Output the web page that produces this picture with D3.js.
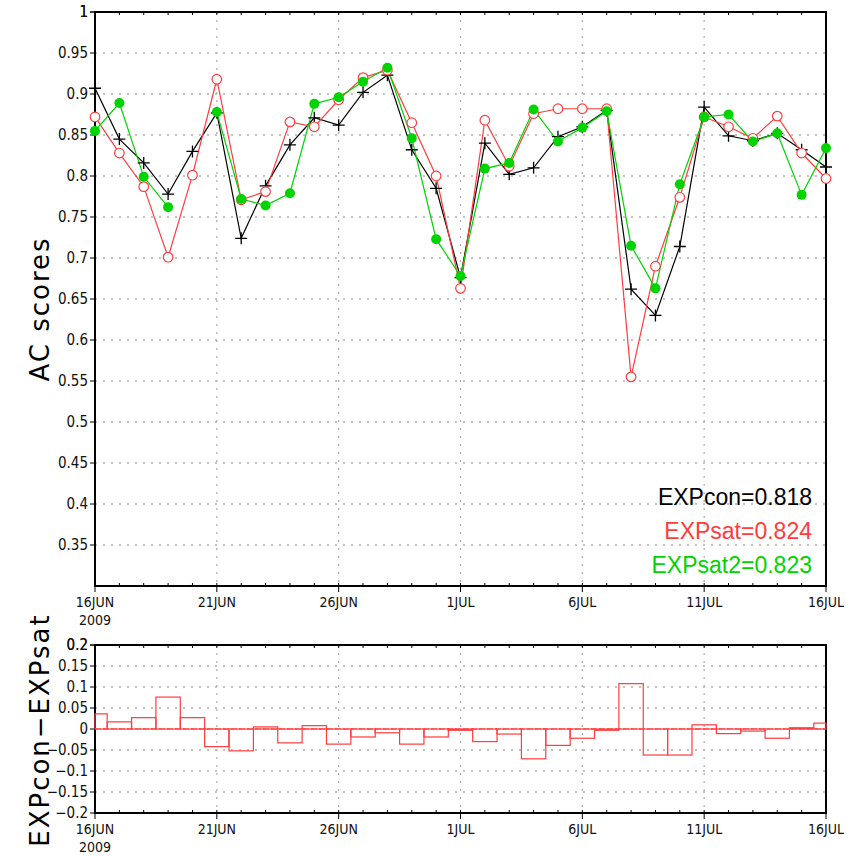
<!DOCTYPE html>
<html>
<head>
<meta charset="utf-8">
<script src="https://cdn.jsdelivr.net/npm/d3@7"></script>
<style>
  body { margin: 0; background: #fff; }
  text { font-family: "Liberation Sans Narrow", "DejaVu Sans Condensed", "Liberation Sans", sans-serif; }
</style>
</head>
<body>
<div id="chart"></div>
<script>

// days 16JUN2009 .. 16JUL2009
var day_index = d3.range(31);
var tick_days = [0, 5, 10, 15, 20, 25, 30];
var tick_names = ["16JUN", "21JUN", "26JUN", "1JUL", "6JUL", "11JUL", "16JUL"];

var exp_con = [0.907, 0.845, 0.816, 0.778, 0.830, 0.877, 0.724, 0.788, 0.838, 0.871,
               0.862, 0.902, 0.923, 0.832, 0.785, 0.676, 0.840, 0.802, 0.810, 0.848,
               0.860, 0.880, 0.662, 0.630, 0.714, 0.884, 0.849, 0.843, 0.852, 0.832, 0.811];
var exp_sat = [0.872, 0.828, 0.787, 0.701, 0.801, 0.918, 0.771, 0.781, 0.866, 0.860,
               0.893, 0.920, 0.929, 0.865, 0.800, 0.663, 0.868, 0.812, 0.876, 0.882,
               0.882, 0.882, 0.555, 0.690, 0.774, 0.872, 0.860, 0.846, 0.873, 0.828, 0.797];
var exp_sat2 = [0.855, 0.889, 0.799, 0.762, null, 0.878, 0.772, 0.764, 0.779, 0.888,
                0.896, 0.915, 0.932, 0.846, 0.723, 0.678, 0.809, 0.816, 0.881, 0.842,
                0.859, 0.879, 0.715, 0.663, 0.790, 0.872, 0.875, 0.842, 0.852, 0.777, 0.834];
var diff_vals = [0.036, 0.017, 0.027, 0.076, 0.027, -0.042, -0.052, 0.005, -0.033, 0.008,
                 -0.036, -0.019, -0.009, -0.036, -0.019, -0.003, -0.030, -0.012, -0.071, -0.039,
                 -0.022, -0.003, 0.108, -0.062, -0.062, 0.010, -0.011, -0.005, -0.022, 0.003, 0.014];

var legend_names = ["EXPcon=0.818", "EXPsat=0.824", "EXPsat2=0.823"];
var top_ticks = d3.range(0.35, 1.0001, 0.05);
var bot_ticks = d3.range(-0.2, 0.2001, 0.05);

var col_con = "#000000", col_sat = "#ff3c3c", col_sat2 = "#00d400";

var W = 852, H = 857;
var svg = d3.select("#chart").append("svg").attr("width", W).attr("height", H);

var x = d3.scaleLinear().domain([0, 30]).range([95, 826]);
var y = d3.scaleLinear().domain([0.3, 1]).range([586, 12]);
var y2 = d3.scaleLinear().domain([-0.2, 0.2]).range([813, 645]);

function fmt(v) {
  var s = d3.format(".2f")(v).replace(/0$/, "").replace(/\.$/, "");
  if (Math.abs(v) < 1e-9) s = "0";
  if (s === "1.0" || s === "1") s = "1";
  return s.replace("-", "\u2212");
}

function drawPanel(ys, yticks, y_top, y_bot, title, title_y) {
  var g = svg.append("g");
  // grid
  g.selectAll(".hg").data(yticks.filter(function(t){ return ys(t) > y_top + 2 && ys(t) < y_bot - 2; }))
    .enter().append("line")
    .attr("x1", x(0)).attr("x2", x(30))
    .attr("y1", function(d){ return ys(d); }).attr("y2", function(d){ return ys(d); })
    .attr("stroke", "#b0b0b0").attr("stroke-width", 1.3).attr("stroke-dasharray", "2,6");
  g.selectAll(".vg").data(tick_days.slice(1, -1)).enter().append("line")
    .attr("x1", function(d){ return x(d); }).attr("x2", function(d){ return x(d); })
    .attr("y1", y_top).attr("y2", y_bot)
    .attr("stroke", "#b0b0b0").attr("stroke-width", 1.3).attr("stroke-dasharray", "2,6");

  // y axis labels and ticks
  var yt = yticks.concat([ys.domain()[1]]);
  g.selectAll(".yl").data(yt).enter().append("text")
    .attr("x", x(0) - 7).attr("y", function(d){ return ys(d) + 5; })
    .attr("text-anchor", "end").attr("font-size", 15).attr("fill", "#111")
    .text(function(d){ return fmt(d); });
  g.selectAll(".yt").data(yt).enter().append("line")
    .attr("x1", x(0) - 5).attr("x2", x(0))
    .attr("y1", function(d){ return ys(d); }).attr("y2", function(d){ return ys(d); })
    .attr("stroke", "#000").attr("stroke-width", 1);

  // x ticks and labels
  g.selectAll(".xt").data(tick_days).enter().append("line")
    .attr("x1", function(d){ return x(d); }).attr("x2", function(d){ return x(d); })
    .attr("y1", y_bot).attr("y2", y_bot + 6)
    .attr("stroke", "#000").attr("stroke-width", 1);
  g.selectAll(".xl").data(tick_days).enter().append("text")
    .attr("x", function(d){ return x(d); }).attr("y", y_bot + 21)
    .attr("text-anchor", "middle").attr("font-size", 14).attr("fill", "#111")
    .text(function(d, i){ return tick_names[i]; });
  g.append("text").attr("x", x(0)).attr("y", y_bot + 39)
    .attr("text-anchor", "middle").attr("font-size", 14).attr("fill", "#111").text("2009");

  // minor ticks on frame
  g.selectAll(".mt").data(day_index).enter().append("line")
    .attr("x1", function(d){ return x(d); }).attr("x2", function(d){ return x(d); })
    .attr("y1", y_top).attr("y2", y_top + 3)
    .attr("stroke", "#000").attr("stroke-width", 1);
  g.selectAll(".mb").data(day_index).enter().append("line")
    .attr("x1", function(d){ return x(d); }).attr("x2", function(d){ return x(d); })
    .attr("y1", y_bot).attr("y2", y_bot - 3)
    .attr("stroke", "#000").attr("stroke-width", 1);

  // frame
  g.append("rect").attr("x", x(0)).attr("y", y_top)
    .attr("width", x(30) - x(0)).attr("height", y_bot - y_top)
    .attr("fill", "none").attr("stroke", "#000").attr("stroke-width", 2);

  // title
  g.append("text")
    .attr("transform", "translate(49," + title_y + ") rotate(-90)")
    .attr("text-anchor", "middle").attr("font-size", 26).attr("fill", "#000")
    .attr("letter-spacing", 2)
    .style("font-family", "'DejaVu Sans', sans-serif")
    .text(title);
  return g;
}

drawPanel(y, top_ticks, 12, 586, "AC scores", 309);
drawPanel(y2, bot_ticks, 645, 813, "EXPcon\u2212EXPsat", 730);

// lines in top panel
var line = d3.line()
  .defined(function(d){ return d != null; })
  .x(function(d, i){ return x(i); })
  .y(function(d){ return y(d); });

var series = [
  {vals: exp_con, col: col_con, mark: "plus"},
  {vals: exp_sat, col: col_sat, mark: "open"},
  {vals: exp_sat2, col: col_sat2, mark: "dot"}
];

series.forEach(function(s) {
  svg.append("path").datum(s.vals)
    .attr("d", line).attr("fill", "none")
    .attr("stroke", s.col).attr("stroke-width", 1.2);
});

series.forEach(function(s) {
  var pts = s.vals.map(function(v, i){ return {i: i, v: v}; }).filter(function(d){ return d.v != null; });
  var g = svg.append("g");
  if (s.mark === "plus") {
    g.selectAll("path").data(pts).enter().append("path")
      .attr("d", function(d){
        var cx = x(d.i), cy = y(d.v);
        return "M" + (cx - 6) + "," + cy + "H" + (cx + 6) + "M" + cx + "," + (cy - 6) + "V" + (cy + 6);
      })
      .attr("stroke", s.col).attr("stroke-width", 1.3);
  } else if (s.mark === "open") {
    g.selectAll("circle").data(pts).enter().append("circle")
      .attr("cx", function(d){ return x(d.i); }).attr("cy", function(d){ return y(d.v); })
      .attr("r", 4.8).attr("fill", "#fff").attr("stroke", s.col).attr("stroke-width", 1.2);
  } else {
    g.selectAll("circle").data(pts).enter().append("circle")
      .attr("cx", function(d){ return x(d.i); }).attr("cy", function(d){ return y(d.v); })
      .attr("r", 5).attr("fill", s.col);
  }
});

// legend
var leg_cols = [col_con, col_sat, col_sat2];
var leg_y = [505, 539, 573];
svg.selectAll(".leg").data(legend_names).enter().append("text")
  .attr("x", 812).attr("y", function(d, i){ return leg_y[i]; })
  .attr("text-anchor", "end").attr("font-size", 23)
  .style("font-family", "'Liberation Sans', sans-serif")
  .attr("fill", function(d, i){ return leg_cols[i]; })
  .text(function(d){ return d; });

// difference bars
svg.append("line").attr("x1", x(0)).attr("x2", x(30))
  .attr("y1", y2(0)).attr("y2", y2(0))
  .attr("stroke", col_sat).attr("stroke-width", 1).attr("stroke-dasharray", "6,2");

svg.append("g").selectAll("rect").data(diff_vals).enter().append("rect")
  .attr("x", function(d, i){ return x(Math.max(0, i - 0.5)); })
  .attr("width", function(d, i){ return x(Math.min(30, i + 0.5)) - x(Math.max(0, i - 0.5)); })
  .attr("y", function(d){ return Math.min(y2(d), y2(0)); })
  .attr("height", function(d){ return Math.abs(y2(d) - y2(0)); })
  .attr("fill", "none").attr("stroke", col_sat).attr("stroke-width", 1.2);

</script>
</body>
</html>
